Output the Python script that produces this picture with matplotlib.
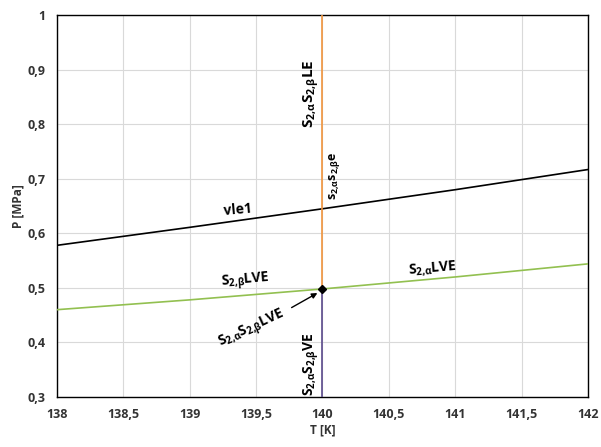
import matplotlib
matplotlib.use("Agg")
import matplotlib.pyplot as plt
from matplotlib.ticker import FuncFormatter, MultipleLocator

# ------------------------------------------------------------
# data
# ------------------------------------------------------------
T_vle1 = [138.0, 139.0, 140.0, 141.0, 142.0]
P_vle1 = [0.578, 0.611, 0.645, 0.680, 0.717]

T_lve = [138.0, 139.0, 140.0, 141.0, 142.0]
P_lve = [0.460, 0.478, 0.498, 0.520, 0.544]

T_quad = 140.0
P_quad = 0.498
P_min, P_max = 0.3, 1.0

plt.rcParams["font.family"] = ["Open Sans", "DejaVu Sans"]
plt.rcParams["mathtext.fontset"] = "custom"
plt.rcParams["mathtext.rm"] = "Open Sans:bold"
plt.rcParams["mathtext.bf"] = "Open Sans:bold"
plt.rcParams["mathtext.it"] = "Open Sans:bold"
plt.rcParams["mathtext.default"] = "rm"

fig = plt.figure(figsize=(6.01, 4.47), dpi=100)
ax = fig.add_axes([0.0948, 0.112, 0.8835, 0.854])

ax.plot(T_vle1, P_vle1, color="black", lw=1.2, zorder=3)
ax.plot(T_lve, P_lve, color="#92c050", lw=1.2, zorder=3)
ax.plot([T_quad, T_quad], [P_quad, P_max], color="#f0943c", lw=1.2, zorder=3)
ax.plot([T_quad, T_quad], [P_min, P_quad], color="#5a4a8c", lw=1.2, zorder=3)
ax.plot([T_quad], [P_quad], marker="D", color="black", ms=4, zorder=4)

ax.set_xlim(138, 142)
ax.set_ylim(P_min, P_max)
ax.xaxis.set_major_locator(MultipleLocator(0.5))
ax.yaxis.set_major_locator(MultipleLocator(0.1))
comma = FuncFormatter(lambda v, p: f"{v:g}".replace(".", ","))
ax.xaxis.set_major_formatter(comma)
ax.yaxis.set_major_formatter(comma)
ax.grid(True, color="#d9d9d9", lw=0.8)
ax.set_axisbelow(True)
ax.tick_params(length=0, labelsize=9, pad=8, labelcolor="#333333")
for lbl in ax.get_xticklabels() + ax.get_yticklabels():
    lbl.set_fontweight("bold")
for s in ax.spines.values():
    s.set_color("black")
    s.set_linewidth(1.0)

ax.set_xlabel("T [K]", fontsize=8.5, fontweight="bold", color="#333333", labelpad=2)
ax.set_ylabel("P [MPa]", fontsize=8.5, fontweight="bold", color="#333333", labelpad=2)

a = r"$_{2{,}α}$"
b = r"$_{2{,}β}$"
kw = dict(fontsize=10, fontweight="bold", ha="center", va="center")
ax.text(139.36, 0.643, "vle1", rotation=5, **kw)
ax.text(139.42, 0.511, "S" + b + "LVE", rotation=5, **kw)
ax.text(140.83, 0.535, "S" + a + "LVE", rotation=5, **kw)
ax.text(139.92, 0.855, "S" + a + "S" + b + "LE", rotation=90, fontsize=11,
        fontweight="bold", ha="center", va="center")
ax.text(140.09, 0.706, "s" + a + "s" + b + "e", rotation=90, fontsize=9,
        fontweight="bold", ha="center", va="center")
ax.text(139.92, 0.360, "S" + a + "S" + b + "VE", rotation=90, **kw)
ax.annotate("S" + a + "S" + b + "LVE", xy=(T_quad - 0.02, P_quad - 0.005),
            xytext=(139.47, 0.423), rotation=25, ha="center", va="center",
            fontsize=10, fontweight="bold",
            arrowprops=dict(arrowstyle="-|>", color="black", lw=1.0,
                            shrinkA=0, shrinkB=2, mutation_scale=8))

fig.savefig("out.png", dpi=100)
